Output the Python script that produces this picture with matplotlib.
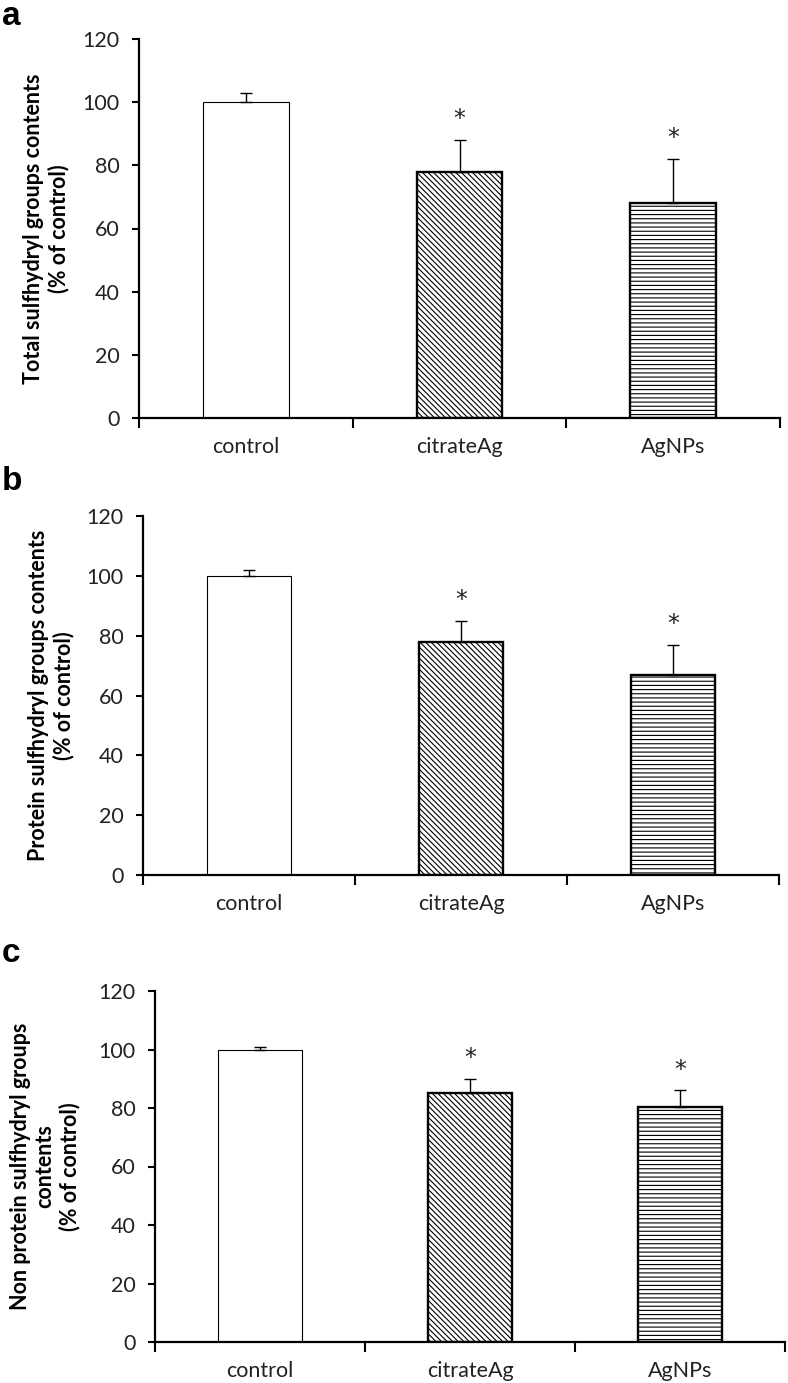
import matplotlib
matplotlib.use("Agg")
import matplotlib.pyplot as plt
import numpy as np

categories = ["control", "citrateAg", "AgNPs"]

total_values = [100, 78, 68]
total_errors = [3, 10, 14]

protein_values = [100, 78, 67]
protein_errors = [2, 7, 10]

nonprotein_values = [100, 85, 80.5]
nonprotein_errors = [1, 5, 5.5]

significant = [False, True, True]

yticks = [0, 20, 40, 60, 80, 100, 120]

ylabels = [
    "Total sulfhydryl groups contents\n(% of control)",
    "Protein sulfhydryl groups contents\n(% of control)",
    "Non protein sulfhydryl groups\ncontents\n(% of control)",
]
panel_letters = ["a", "b", "c"]

plt.rcParams["font.family"] = ["Lato", "DejaVu Sans"]
plt.rcParams["hatch.linewidth"] = 0.8
plt.rcParams["hatch.color"] = "black"

W, H = 788, 1383
fig = plt.figure(figsize=(W / 100, H / 100), dpi=100)

# axes rects in pixels: left, right, top, bottom
rects = [(139, 780, 39, 418), (143, 779, 516, 875), (155, 785, 991, 1342)]
label_x = [46, 51, 45]
letter_base = [25, 490, 962]

datasets = [(total_values, total_errors), (protein_values, protein_errors),
            (nonprotein_values, nonprotein_errors)]

hatches = ["", "\\\\\\\\\\\\", "----"]
edge_lw = [0.8, 1.7, 1.7]

for i, ((vals, errs), (l, r, t, b)) in enumerate(zip(datasets, rects)):
    ax = fig.add_axes([l / W, 1 - b / H, (r - l) / W, (b - t) / H])
    x = np.arange(len(categories))
    for j in range(len(categories)):
        ax.bar(x[j], vals[j], width=0.4, color="white", edgecolor="black",
               linewidth=edge_lw[j], hatch=hatches[j], zorder=2)
    ax.errorbar(x, vals, yerr=[np.zeros(len(errs)), errs], fmt="none",
                ecolor="black", elinewidth=1.0, capsize=4, capthick=1.0, zorder=3)
    for j in range(len(categories)):
        if significant[j]:
            ax.annotate("*", xy=(x[j], vals[j] + errs[j]), xytext=(0, 15),
                        textcoords="offset points", ha="center", va="center",
                        fontsize=17, color="#222222",
                        family=["DejaVu Sans"])
    ax.set_xlim(-0.5, 2.5)
    ax.set_ylim(0, 120)
    ax.set_yticks(yticks)
    ax.tick_params(axis="y", direction="out", length=5, width=1.5, labelsize=15.5,
                   pad=9, colors="black", labelcolor="#222222")
    ax.set_xticks([-0.5, 0.5, 1.5, 2.5])
    ax.set_xticklabels([])
    ax.tick_params(axis="x", which="major", direction="out", length=7, width=1.5)
    ax.set_xticks(x, minor=True)
    ax.set_xticklabels(categories, minor=True)
    ax.tick_params(axis="x", which="minor", length=0, pad=14, labelsize=15.5,
                   labelcolor="#222222")
    for s in ["top", "right"]:
        ax.spines[s].set_visible(False)
    for s in ["left", "bottom"]:
        ax.spines[s].set_linewidth(1.6)
    fig.text(label_x[i] / W, 1 - ((t + b) / 2) / H, ylabels[i], rotation=90,
             ha="center", va="center", multialignment="center",
             fontsize=15.5, fontweight="bold", linespacing=1.2)
    fig.text(2 / W, 1 - letter_base[i] / H, panel_letters[i], ha="left",
             va="baseline", fontsize=24, fontweight="bold",
             family=["Liberation Sans", "DejaVu Sans"])

fig.savefig("out.png", dpi=100)
